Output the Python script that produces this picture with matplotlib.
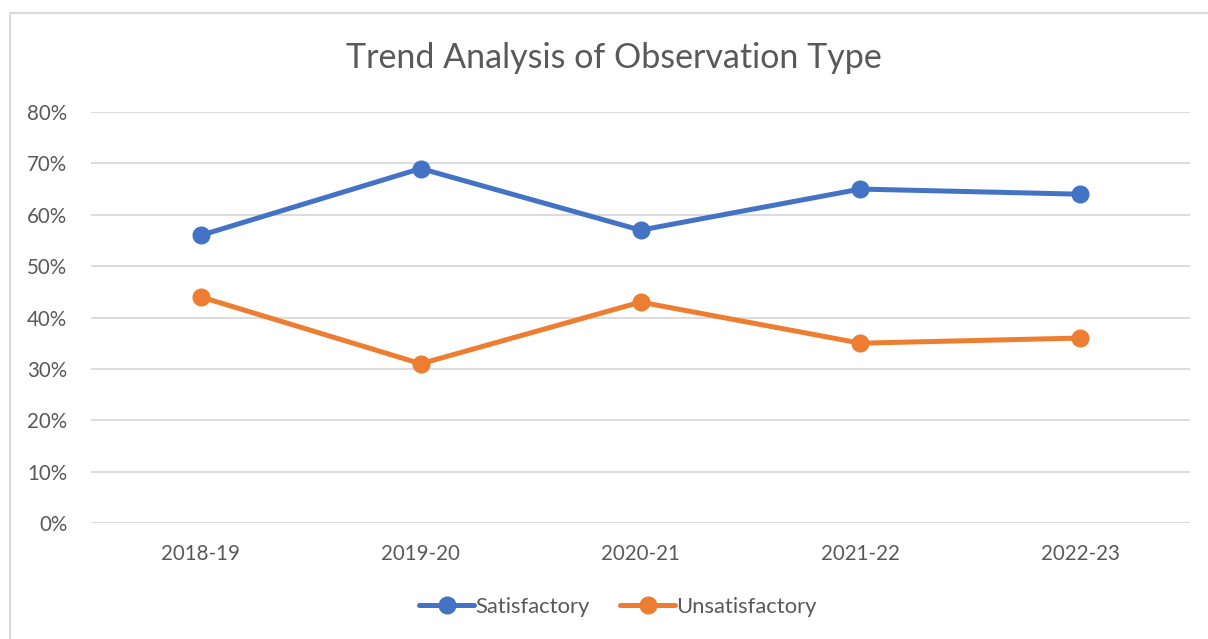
import matplotlib
matplotlib.use("Agg")
import matplotlib.pyplot as plt
from matplotlib.patches import Rectangle
from matplotlib.ticker import PercentFormatter

years = ["2018-19", "2019-20", "2020-21", "2021-22", "2022-23"]
satisfactory = [0.56, 0.69, 0.57, 0.65, 0.64]
unsatisfactory = [0.44, 0.31, 0.43, 0.35, 0.36]

plt.rcParams["font.family"] = ["Lato", "DejaVu Sans"]
text_color = "#595959"
grid_color = "#d9d9d9"

fig = plt.figure(figsize=(12.08, 6.39), dpi=100)
ax = fig.add_axes([91 / 1208, 1 - 523 / 639, 1099 / 1208, 411 / 639])

# chart border (runs past the right and bottom edges like the screenshot)
fig.patches.append(Rectangle((10 / 1208, -0.1), 1.2, 1.1 - 13 / 639,
                             transform=fig.transFigure, fill=False,
                             edgecolor=grid_color, linewidth=1.5))

x = range(len(years))
ax.plot(x, satisfactory, color="#4472C4", linewidth=3.6, marker="o",
        markersize=12, label="Satisfactory", solid_capstyle="round")
ax.plot(x, unsatisfactory, color="#ED7D31", linewidth=3.6, marker="o",
        markersize=12, label="Unsatisfactory", solid_capstyle="round")

ax.set_xlim(-0.5, len(years) - 0.5)
ax.set_ylim(0, 0.8)
ax.set_yticks([i / 10 for i in range(9)])
ax.yaxis.set_major_formatter(PercentFormatter(1.0, decimals=0))
ax.set_xticks(list(x))
ax.set_xticklabels(years)
ax.tick_params(length=0, labelsize=14.8, colors=text_color)
ax.tick_params(axis="y", pad=17)
ax.tick_params(axis="x", pad=15)
ax.grid(axis="y", color=grid_color, linewidth=1.3)
ax.set_axisbelow(True)
for side in ax.spines.values():
    side.set_visible(False)

fig.text(614 / 1208, 1 - 58 / 639, "Trend Analysis of Observation Type",
         ha="center", va="center", fontsize=24.5, color=text_color)

ax.legend(loc="center", bbox_to_anchor=(618 / 1208, 1 - 607 / 639),
          bbox_transform=fig.transFigure, ncol=2, frameon=False,
          fontsize=15.8, labelcolor=text_color, handlelength=2.5,
          handletextpad=0.05, columnspacing=1.4)

fig.savefig("out.png", dpi=100)
